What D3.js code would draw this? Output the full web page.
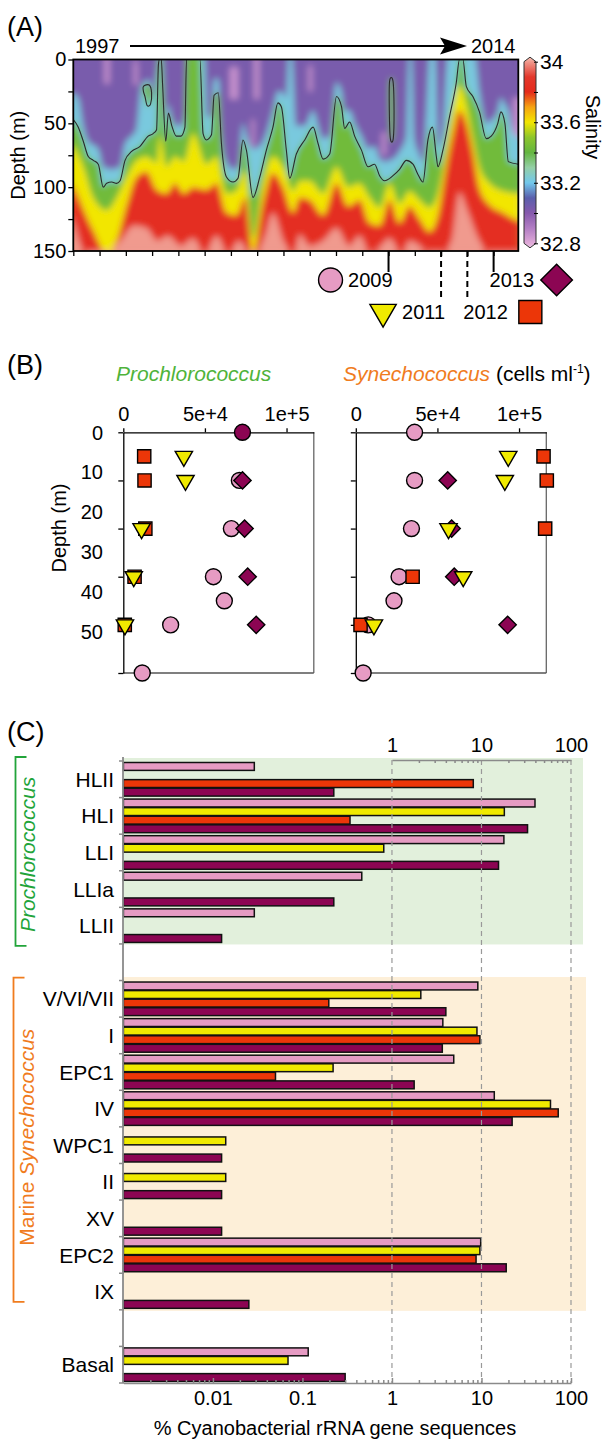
<!DOCTYPE html>
<html>
<head>
<meta charset="utf-8">
<script src="https://cdn.jsdelivr.net/npm/d3@7"></script>
<style>
  body { margin: 0; background: #fff; }
  svg { display: block; }
</style>
</head>
<body>
<script>
// ---------- (A) salinity section: depth (m) of isohalines through time ----------
var iso332 = [[1997.00,26],[1997.19,30],[1997.38,52],[1997.57,64],[1997.95,70],[1998.14,84],[1998.46,86],[1998.78,84],[1998.97,66],[1999.22,60],[1999.40,55],[1999.60,20],[1999.90,16],[2000.04,30],[2000.17,10],[2000.24,0],[2000.40,0],[2000.52,48],[2000.62,35],[2000.75,45],[2000.92,52],[2001.10,52],[2001.25,40],[2001.31,0],[2002.00,0],[2002.10,45],[2002.26,45],[2002.36,15],[2002.52,15],[2002.64,58],[2002.83,80],[2003.08,86],[2003.27,84],[2003.46,50],[2003.59,60],[2003.84,70],[2004.10,68],[2004.35,58],[2004.60,40],[2004.79,25],[2004.92,25],[2005.11,30],[2005.20,0],[2005.32,0],[2005.49,52],[2005.81,52],[2006.13,40],[2006.32,52],[2006.51,62],[2006.76,60],[2007.02,18],[2007.21,25],[2007.33,40],[2007.52,40],[2007.71,50],[2007.97,60],[2008.22,70],[2008.47,68],[2008.66,78],[2008.85,80],[2009.17,78],[2009.42,72],[2009.68,60],[2009.78,0],[2009.88,0],[2009.98,62],[2010.12,72],[2010.31,80],[2010.45,40],[2010.56,0],[2010.78,0],[2010.88,68],[2011.07,55],[2011.25,0],[2011.96,0],[2012.30,0],[2012.46,25],[2012.60,42],[2012.72,50],[2012.91,48],[2013.16,40],[2013.28,30],[2013.43,35],[2013.56,40],[2013.70,55],[2013.94,62]];

// the drawn contour line
var iso334 = [[1997.00,47],[1997.19,53],[1997.38,64],[1997.57,76],[1997.76,79],[1997.95,82],[1998.14,100],[1998.27,97],[1998.46,96],[1998.65,97],[1998.78,95],[1998.97,79],[1999.22,72],[1999.54,68],[1999.85,60],[2000.04,58],[2000.17,55],[2000.24,4],[2000.28,0],[2000.35,0],[2000.40,20],[2000.52,64],[2000.62,42],[2000.75,52],[2000.92,60],[2001.10,60],[2001.25,53],[2001.31,0],[2001.82,0],[2001.94,58],[2002.07,63],[2002.26,59],[2002.36,28],[2002.52,26],[2002.64,66],[2002.83,92],[2003.08,96],[2003.27,93],[2003.46,63],[2003.59,71],[2003.84,108],[2004.10,92],[2004.35,71],[2004.60,53],[2004.79,34],[2004.92,37],[2005.11,71],[2005.24,93],[2005.49,74],[2005.81,63],[2006.13,53],[2006.32,66],[2006.51,78],[2006.76,74],[2007.02,29],[2007.21,37],[2007.33,54],[2007.52,49],[2007.71,60],[2007.97,71],[2008.22,84],[2008.47,82],[2008.66,91],[2008.85,95],[2009.17,91],[2009.42,86],[2009.68,79],[2009.93,82],[2010.12,90],[2010.31,96],[2010.50,63],[2010.67,53],[2010.82,76],[2010.88,84],[2011.07,71],[2011.32,45],[2011.58,18],[2011.70,0],[2011.83,0],[2011.96,21],[2012.21,29],[2012.46,41],[2012.72,62],[2012.91,60],[2013.16,50],[2013.28,41],[2013.43,50],[2013.56,80],[2013.94,82]];

var iso336 = [[1997.00,66],[1997.40,85],[1997.76,108],[1998.27,118],[1998.65,108],[1999.03,92],[1999.41,79],[1999.79,76],[2000.17,81],[2000.30,60],[2000.55,84],[2000.87,76],[2001.20,80],[2001.56,58],[2002.07,82],[2002.45,76],[2002.83,105],[2003.21,103],[2003.53,87],[2003.84,140],[2004.22,97],[2004.60,76],[2004.98,84],[2005.37,103],[2005.62,95],[2006.00,95],[2006.51,105],[2007.02,84],[2007.46,100],[2007.90,97],[2008.28,108],[2008.66,116],[2009.04,97],[2009.42,113],[2009.80,103],[2010.18,110],[2010.56,116],[2010.88,105],[2011.20,71],[2011.45,40],[2011.70,20],[2011.96,35],[2012.20,60],[2012.46,84],[2012.85,97],[2013.35,103],[2013.94,105]];

var iso338 = [[1997.00,97],[1997.40,118],[1997.76,134],[1998.27,152],[1998.65,142],[1999.03,114],[1999.41,92],[1999.79,88],[2000.17,102],[2000.55,105],[2000.87,97],[2001.20,105],[2001.56,100],[2002.07,102],[2002.45,97],[2002.83,120],[2003.21,122],[2003.53,108],[2003.84,152],[2004.22,112],[2004.60,89],[2004.98,100],[2005.37,120],[2005.62,108],[2006.00,110],[2006.51,122],[2007.02,97],[2007.46,115],[2007.90,110],[2008.28,128],[2008.66,130],[2009.04,110],[2009.42,128],[2009.80,115],[2010.18,125],[2010.56,135],[2010.88,122],[2011.20,84],[2011.45,58],[2011.70,40],[2011.96,50],[2012.20,72],[2012.46,101],[2012.85,114],[2013.35,120],[2013.94,127]];

var iso3395 = [[1997.00,122],[1997.40,150],[1998.00,155],[1998.80,142],[1999.30,130],[1999.79,132],[2000.20,142],[2000.60,138],[2001.10,146],[2001.56,140],[2002.00,152],[2002.45,138],[2002.90,152],[2003.30,142],[2003.84,155],[2004.30,138],[2004.60,120],[2005.00,142],[2005.40,152],[2005.62,137],[2006.00,146],[2006.51,142],[2007.02,132],[2007.50,146],[2007.90,138],[2008.30,152],[2008.70,146],[2009.04,140],[2009.50,152],[2009.80,142],[2010.20,146],[2010.56,152],[2011.00,152],[2011.40,142],[2011.70,104],[2012.00,118],[2012.46,142],[2012.85,152],[2013.35,152],[2013.94,152]];

// closed 33.4 contours (isolated patches)
var island1 = [[1999.67,21],[1999.89,20],[1999.98,26],[1999.94,35],[1999.81,36],[1999.73,29],[1999.67,25]];
var island2 = [[2009.04,17],[2009.17,17],[2009.21,40],[2009.18,62],[2009.07,62],[2009.03,40]];

// low-salinity streaks in the surface layer: [start, end, top m, bottom m]
var freshStreaks = [[1998.18,1998.38,0,19],[2002.95,2003.28,6,31],[2003.88,2004.08,0,31],[2003.78,2003.90,47,68],[2008.74,2008.90,57,75],[2013.74,2013.94,30,62],[1999.30,1999.45,2,20],[2005.95,2006.10,5,25]];

var salStops  = [32.77, 32.8, 32.9, 33.0, 33.1, 33.2, 33.3, 33.4, 33.5, 33.6, 33.7, 33.8, 33.9, 34.0, 34.03];
var salColors = ["#ecc6e6","#e0aad8","#b27ec4","#8659ac","#5a5fac","#72c8ec","#94cfa6","#64b640","#8ec62c","#f2e600","#f5a312","#e52a1b","#e3382c","#f09a8e","#f6c2b4"];
var salTicks = [32.8, 33.0, 33.2, 33.4, 33.6, 33.8, 34.0];
var salLabels = [32.8, 33.2, 33.6, 34.0];
var sectionYears = d3.range(1997, 2014);

// ---------- sample years ----------
var sampleYears = [2009, 2011, 2012, 2013];
var yearColors = ["#e69bc3", "#f0ea00", "#ec3608", "#8c0553"];
var yearShapes = ["circle", "triangle", "square", "diamond"];
var drawOrder = [2009, 2013, 2012, 2011];

// ---------- (B) cell counts: [depth m, cells per ml] ----------
var pro2009 = [[10,71100],[20,66200],[30,55200],[35,61900],[40,29000],[50,11600]];
var pro2011 = [[5,37100],[10,38100],[20,11200],[30,6400],[40,1000]];
var pro2012 = [[5,12800],[10,13000],[20,13500],[30,6900],[40,900]];
var pro2013 = [[0,73000,"circle"],[10,73000],[20,74300],[30,76200],[40,81400]];

var syn2009 = [[0,36000],[10,36000],[20,34100],[30,26500],[35,23400],[40,7600],[50,4500]];
var syn2011 = [[5,93400],[10,91300],[20,56800],[30,65800],[40,11100]];
var syn2012 = [[5,115000],[10,117000],[20,116000],[30,34800],[40,2900]];
var syn2013 = [[10,56300],[20,58700],[30,60300],[40,93000]];

var depthTicks = [0, 10, 20, 30, 40, 50];
var cellTicks = [0, 5e4, 1e5];
var cellTickLabels = ["0", "5e+4", "1e+5"];

// ---------- (C) % of cyanobacterial rRNA sequences ("" = spacer row) ----------
var clades = ["HLII","HLI","LLI","LLIa","LLII","","V/VI/VII","I","EPC1","IV","WPC1","II","XV","EPC2","IX","","Basal"];
var pct2009 = [0.029, 39.6, 17.8, 0.46, 0.029, null, 9.1, 3.7, 4.9, 13.9, null, null, null, 9.8, null, null, 0.116];
var pct2011 = [null, 18.0, 0.81, null, null, null, 2.1, 8.9, 0.22, 59, 0.0139, 0.0139, null, 9.6, null, null, 0.069];
var pct2012 = [8.1, 0.34, null, null, null, null, 0.197, 9.6, 0.050, 72, null, null, null, 8.7, null, null, null];
var pct2013 = [0.224, 32.7, 15.5, 0.224, 0.0125, null, 4.0, 3.65, 1.77, 22, 0.0125, 0.0125, 0.0125, 18.9, 0.0252, null, 0.30];
var pctMajor = [0.01, 0.1, 1, 10, 100];
var pctGrid = [1, 10, 100];

var font = '"Liberation Sans", Arial, Helvetica, sans-serif';
var proGreen = "#4fb33a", proGreenDark = "#22a43a", synOrange = "#f07c1e";

var svg = d3.select("body").append("svg")
    .attr("width", 605)
    .attr("height", 1439)
    .style("font-family", font);

var defs = svg.append("defs");

function symbolPath(shape, size) {
  var type = shape === "circle" ? d3.symbolCircle : shape === "triangle" ? d3.symbolTriangle : d3.symbolSquare;
  return d3.symbol().type(type).size(size)();
}
function symbolTurn(shape) {
  return shape === "triangle" ? 180 : shape === "diamond" ? 45 : 0;
}

function styleAxis(g, size) {
  g.attr("font-family", font).attr("font-size", size).attr("color", "#000");
}

function label(x, y, txt, size) {
  return svg.append("text").attr("x", x).attr("y", y).style("font-size", size + "px").text(txt);
}

// ================= (A) =================
var xT = d3.scaleLinear().domain([1997, 2013.94]).range([73.3, 518.3]);
var yD = d3.scaleLinear().domain([0, 150]).range([59.5, 251]);
var salColor = d3.scaleLinear().domain(salStops).range(salColors);

var plotA = {x: xT(1997), y: yD(0), w: xT(2013.94) - xT(1997), h: yD(150) - yD(0)};

defs.append("clipPath").attr("id", "clipA").append("rect")
    .attr("x", plotA.x).attr("y", plotA.y).attr("width", plotA.w).attr("height", plotA.h);

var soft = defs.append("filter").attr("id", "soft")
    .attr("filterUnits", "userSpaceOnUse")
    .attr("x", plotA.x).attr("y", plotA.y).attr("width", plotA.w).attr("height", plotA.h);
soft.append("feGaussianBlur").attr("stdDeviation", "3.4 3");
soft.append("feComponentTransfer").append("feFuncA").attr("type", "table").attr("tableValues", "1 1");

var gA = svg.append("g").attr("clip-path", "url(#clipA)");
var field = gA.append("g").attr("filter", "url(#soft)");

field.append("rect")
    .attr("x", plotA.x).attr("y", plotA.y).attr("width", plotA.w).attr("height", plotA.h)
    .attr("fill", salColor(33.03));

field.selectAll(".streak")
    .data(freshStreaks)
  .enter().append("rect")
    .attr("class", "streak")
    .attr("x", function(d) { return xT(d[0]); })
    .attr("width", function(d) { return xT(d[1]) - xT(d[0]); })
    .attr("y", function(d) { return yD(d[2]); })
    .attr("height", function(d) { return yD(d[3]) - yD(d[2]); })
    .attr("fill", salColor(32.86));

var layers = [[iso332, 33.22], [iso334, 33.43], [iso336, 33.6], [iso338, 33.83], [iso3395, 34.0]];

var below = d3.area()
    .curve(d3.curveMonotoneX)
    .x(function(d) { return xT(d[0]); })
    .y0(yD(150))
    .y1(function(d) { return yD(d[1]); });

field.selectAll(".layer")
    .data(layers)
  .enter().append("path")
    .attr("class", "layer")
    .attr("d", function(d) { return below(d[0]); })
    .attr("fill", function(d) { return salColor(d[1]); });

var ring = d3.line()
    .curve(d3.curveCardinalClosed)
    .x(function(d) { return xT(d[0]); })
    .y(function(d) { return yD(d[1]); });

field.selectAll(".island")
    .data([island1, island2])
  .enter().append("path")
    .attr("class", "island")
    .attr("d", ring)
    .attr("fill", salColor(33.43));

gA.append("path")
    .datum(iso334)
    .attr("d", d3.line().curve(d3.curveMonotoneX)
        .x(function(d) { return xT(d[0]); })
        .y(function(d) { return yD(d[1]); }))
    .attr("fill", "none")
    .attr("stroke", "#2a2a2a")
    .attr("stroke-width", 1.1);

gA.selectAll(".islandLine")
    .data([island1, island2])
  .enter().append("path")
    .attr("d", ring)
    .attr("fill", "none")
    .attr("stroke", "#2a2a2a")
    .attr("stroke-width", 1.1);

svg.append("rect")
    .attr("x", plotA.x).attr("y", plotA.y).attr("width", plotA.w).attr("height", plotA.h)
    .attr("fill", "none").attr("stroke", "#000").attr("stroke-width", 1.8);

// depth axis
svg.append("g")
    .attr("transform", "translate(" + plotA.x + ",0)")
    .call(d3.axisLeft(yD).tickValues([0, 25, 50, 75, 100, 125, 150])
        .tickFormat(function(d) { return d % 50 ? "" : d; })
        .tickSize(5).tickPadding(2))
    .call(styleAxis, 20)
    .call(function(g) {
      g.select(".domain").remove();
      g.selectAll(".tick line").attr("stroke-width", 1.3);
    });

// time ticks
svg.append("g")
    .attr("transform", "translate(0," + yD(150) + ")")
    .call(d3.axisBottom(xT).tickValues(sectionYears).tickFormat("").tickSize(5))
    .call(styleAxis, 12)
    .call(function(g) {
      g.select(".domain").remove();
      g.selectAll(".tick line").attr("stroke-width", 1.3);
    });

svg.append("text").attr("transform", "translate(25," + (plotA.y + plotA.h / 2) + ") rotate(-90)")
    .attr("text-anchor", "middle").style("font-size", "20px").text("Depth (m)");

label(7, 36, "(A)", 27);
label(75, 53, "1997", 20);
label(471, 53, "2014", 20);
svg.append("line").attr("x1", 130).attr("x2", 448).attr("y1", 46).attr("y2", 46)
    .attr("stroke", "#000").attr("stroke-width", 2.2);
svg.append("path").attr("d", "M467,46L440,37.5L445,46L440,54.5Z").attr("fill", "#000");

// colour bar
var yS = d3.scaleLinear().domain([32.8, 34]).range([243.3, 61.7]);
var grad = defs.append("linearGradient").attr("id", "salGrad")
    .attr("gradientUnits", "userSpaceOnUse")
    .attr("x1", 0).attr("x2", 0).attr("y1", yS(34.03)).attr("y2", yS(32.77));
grad.selectAll("stop")
    .data(salStops.slice().reverse())
  .enter().append("stop")
    .attr("offset", function(d) { return (34.03 - d) / (34.03 - 32.77); })
    .attr("stop-color", function(d) { return salColors[salStops.indexOf(d)]; });

svg.append("path")
    .attr("d", "M524," + yS(34) + "L530," + yS(34.03) + "L536," + yS(34) +
               "L536," + yS(32.8) + "L530," + yS(32.77) + "L524," + yS(32.8) + "Z")
    .attr("fill", "url(#salGrad)").attr("stroke", "#333").attr("stroke-width", 1);

svg.append("g")
    .attr("transform", "translate(534,0)")
    .call(d3.axisRight(yS).tickValues(salTicks).tickSize(4).tickPadding(2)
        .tickFormat(function(d) {
          if (salLabels.indexOf(d) < 0) return "";
          return d === 34 ? "34" : d.toFixed(1);
        }))
    .call(styleAxis, 21)
    .call(function(g) { g.select(".domain").remove(); });

svg.append("text").attr("transform", "translate(586," + 127 + ") rotate(90)")
    .attr("text-anchor", "middle").style("font-size", "20px").text("Salinity");

// sample-year markers under the section
var legendRows = {2009: 0, 2013: 0, 2011: 1, 2012: 1};
sampleYears.forEach(function(yr, i) {
  var x = xT(yr), row = legendRows[yr], dashed = row === 1;
  var cy = row === 0 ? 280 : 312;
  var leftSide = yr === 2009 || yr === 2011;
  svg.append("line")
      .attr("x1", x).attr("x2", x).attr("y1", yD(150)).attr("y2", dashed ? 297 : 272)
      .attr("stroke", "#000").attr("stroke-width", 2)
      .attr("stroke-dasharray", dashed ? "6,4" : null);
  svg.append("text")
      .attr("x", leftSide ? x + 4 : x - 4).attr("y", cy + 7)
      .attr("text-anchor", leftSide ? "end" : "start")
      .style("font-size", "20px").text(yr);
  var shape = yearShapes[i];
  var size = {circle: 450, triangle: 300, square: 530, diamond: 500}[shape];
  svg.append("path")
      .attr("transform", "translate(" + (leftSide ? x - 58 : x + 63) + "," + cy + ") rotate(" + symbolTurn(shape) + ")")
      .attr("d", symbolPath(shape, size))
      .attr("fill", yearColors[i]).attr("stroke", "#000").attr("stroke-width", 1.4);
});

// ================= (B) =================
label(7, 374, "(B)", 27);
label(116, 381, "Prochlorococcus", 21).style("font-style", "italic").attr("fill", proGreen);
var synTitle = label(343, 381, null, 21);
synTitle.append("tspan").style("font-style", "italic").attr("fill", synOrange).text("Synechococcus");
synTitle.append("tspan").text(" (cells ml");
synTitle.append("tspan").attr("dy", -8).style("font-size", "12px").text("-1");
synTitle.append("tspan").attr("dy", 8).text(")");

var xB = d3.scaleLinear().domain([0, 116700]).range([0, 190.5]);
var yB = d3.scaleLinear().domain([0, 50]).range([432.3, 673]);
var yBLabel = d3.scaleLinear().domain([0, 50]).range([432.3, 631.8]);
var symSize = {circle: 200, square: 175, diamond: 150, triangle: 130};

var bPanels = [
  {left: 123.3, series: {2009: pro2009, 2011: pro2011, 2012: pro2012, 2013: pro2013}},
  {left: 355.8, series: {2009: syn2009, 2011: syn2011, 2012: syn2012, 2013: syn2013}}
];

bPanels.forEach(function(p) {
  var g = svg.append("g").attr("transform", "translate(" + p.left + ",0)");
  var x1 = xB.range()[1];

  g.append("line").attr("x1", x1).attr("x2", x1).attr("y1", yB(0)).attr("y2", yB(50))
      .attr("stroke", "#666").attr("stroke-width", 1.3);
  g.append("line").attr("x1", 0).attr("x2", x1).attr("y1", yB(50)).attr("y2", yB(50))
      .attr("stroke", "#555").attr("stroke-width", 1.3);

  g.append("g")
      .attr("transform", "translate(0," + yB(0) + ")")
      .call(d3.axisTop(xB).tickValues(cellTicks).tickSize(4).tickSizeOuter(0).tickPadding(7)
          .tickFormat(function(d, i) { return cellTickLabels[i]; }))
      .call(styleAxis, 20)
      .call(function(a) { a.selectAll("path, line").attr("stroke-width", 1.3); });

  g.append("g")
      .call(d3.axisLeft(yB).tickValues(depthTicks).tickSize(5).tickSizeOuter(0).tickFormat(""))
      .call(styleAxis, 12)
      .call(function(a) { a.selectAll("path, line").attr("stroke-width", 1.3); });

  drawOrder.forEach(function(yr) {
    var i = sampleYears.indexOf(yr);
    g.selectAll(null)
        .data(p.series[yr])
      .enter().append("path")
        .attr("transform", function(d) {
          return "translate(" + xB(d[1]) + "," + yB(d[0]) + ") rotate(" + symbolTurn(d[2] || yearShapes[i]) + ")";
        })
        .attr("d", function(d) { var s = d[2] || yearShapes[i]; return symbolPath(s, symSize[s]); })
        .attr("fill", yearColors[i])
        .attr("stroke", "#000")
        .attr("stroke-width", 1.4);
  });
});

svg.selectAll(".depthLabel")
    .data(depthTicks)
  .enter().append("text")
    .attr("x", 103).attr("y", function(d) { return yBLabel(d); })
    .attr("dy", "0.36em").attr("text-anchor", "end")
    .style("font-size", "20px")
    .text(function(d) { return d; });

svg.append("text").attr("transform", "translate(66,528) rotate(-90)")
    .attr("text-anchor", "middle").style("font-size", "20px").text("Depth (m)");

// ================= (C) =================
label(7, 741, "(C)", 27);

var xC = d3.scaleLog().domain([0.001, 100]).range([123.4, 571]);
var yC = d3.scaleBand().domain(d3.range(clades.length)).range([761, 1383]);
var ySub = d3.scaleBand().domain(sampleYears).range([1.5, yC.bandwidth() - 1.5]).paddingInner(0.08);
var pctSeries = [pct2009, pct2011, pct2012, pct2013];

// group shading
svg.append("rect").attr("x", 123).attr("y", yC(0) - 3).attr("width", 460).attr("height", yC(5) - yC(0) + 3.5)
    .attr("fill", "#e2f0dc");
svg.append("rect").attr("x", 123).attr("y", yC(6) - 3.5).attr("width", 463).attr("height", yC(15) - yC(6) + 4.5)
    .attr("fill", "#fdefd8");

// bars
pctSeries.forEach(function(vals, i) {
  var yr = sampleYears[i];
  svg.selectAll(null)
      .data(vals.map(function(v, k) { return {k: k, v: v}; }).filter(function(d) { return d.v != null; }))
    .enter().append("rect")
      .attr("x", xC(0.001))
      .attr("y", function(d) { return yC(d.k) + ySub(yr); })
      .attr("width", function(d) { return xC(d.v) - xC(0.001); })
      .attr("height", ySub.bandwidth())
      .attr("fill", yearColors[i])
      .attr("stroke", "#111")
      .attr("stroke-width", 1.5);
});

// dashed grid
svg.selectAll(".gridC")
    .data(pctGrid)
  .enter().append("line")
    .attr("x1", function(d) { return xC(d); }).attr("x2", function(d) { return xC(d); })
    .attr("y1", 760).attr("y2", 1383)
    .attr("stroke", "#999").attr("stroke-width", 1.2).attr("stroke-dasharray", "5,4");

// left axis with tick at every row boundary
svg.append("line").attr("x1", 123).attr("x2", 123).attr("y1", 757).attr("y2", 1383)
    .attr("stroke", "#8a8a8a").attr("stroke-width", 1.8);
svg.selectAll(".rowTick")
    .data(d3.range(clades.length + 1))
  .enter().append("line")
    .attr("x1", 119).attr("x2", 124)
    .attr("y1", function(i) { return i < clades.length ? yC(i) : yC.range()[1]; })
    .attr("y2", function(i) { return i < clades.length ? yC(i) : yC.range()[1]; })
    .attr("stroke", "#8a8a8a").attr("stroke-width", 1.5);

svg.selectAll(".clade")
    .data(clades)
  .enter().append("text")
    .attr("x", 114)
    .attr("y", function(d, i) { return yC(i) + yC.bandwidth() / 2; })
    .attr("dy", "0.36em").attr("text-anchor", "end")
    .style("font-size", "21px")
    .text(function(d) { return d; });

// bottom axis
var minorC = [];
[0.001, 0.01, 0.1, 1, 10].forEach(function(p) { d3.range(2, 10).forEach(function(m) { minorC.push(p * m); }); });

svg.append("g")
    .attr("transform", "translate(0,1383)")
    .call(d3.axisBottom(xC).tickValues(minorC).tickFormat("").tickSizeInner(-3).tickSizeOuter(0))
    .call(styleAxis, 12)
    .call(function(g) { g.attr("color", "#8a8a8a"); g.selectAll("path, line").attr("stroke-width", 1.5); });
svg.append("g")
    .attr("transform", "translate(0,1383)")
    .call(d3.axisBottom(xC).tickValues(pctMajor).tickFormat(function(d) { return String(d); })
        .tickSizeInner(-5).tickSizeOuter(0).tickPadding(8))
    .call(styleAxis, 20)
    .call(function(g) {
      g.select(".domain").remove();
      g.selectAll("line").attr("stroke", "#8a8a8a").attr("stroke-width", 1.5);
    });

// top axis (1 - 100)
var xCtop = xC.copy().domain([1, 100]).range([xC(1), xC(100)]);
var minorTop = [];
[1, 10].forEach(function(p) { d3.range(2, 10).forEach(function(m) { minorTop.push(p * m); }); });
svg.append("g")
    .attr("transform", "translate(0,760)")
    .call(d3.axisBottom(xCtop).tickValues(minorTop).tickFormat("").tickSizeInner(3).tickSizeOuter(0))
    .call(styleAxis, 12)
    .call(function(g) { g.attr("color", "#8a8a8a"); g.selectAll("path, line").attr("stroke-width", 1.5); });
svg.append("g")
    .attr("transform", "translate(0,760)")
    .call(d3.axisTop(xCtop).tickValues(pctGrid).tickSize(0).tickPadding(8)
        .tickFormat(function(d) { return String(d); }))
    .call(styleAxis, 20)
    .call(function(g) { g.select(".domain").remove(); });

svg.append("text").attr("x", 335).attr("y", 1435).attr("text-anchor", "middle")
    .style("font-size", "20px").text("% Cyanobacterial rRNA gene sequences");

// group brackets
function bracket(y0, y1, x, color) {
  svg.append("path")
      .attr("d", "M" + (x + 11) + "," + y0 + "H" + x + "V" + y1 + "H" + (x + 11))
      .attr("fill", "none").attr("stroke", color).attr("stroke-width", 1.8);
}
bracket(yC(0) - 4, yC(5) + 2, 15.5, proGreenDark);
bracket(yC(6) - 3, yC(15) - 8, 13.5, synOrange);

svg.append("text").attr("transform", "translate(35," + ((yC(0) + yC(5)) / 2 + 2) + ") rotate(-90)")
    .attr("text-anchor", "middle").style("font-size", "21px").style("font-style", "italic")
    .attr("fill", proGreenDark).text("Prochlorococcus");

var synLab = svg.append("text").attr("transform", "translate(34," + ((yC(6) + yC(15)) / 2 - 8) + ") rotate(-90)")
    .attr("text-anchor", "middle").style("font-size", "21px").attr("fill", synOrange);
synLab.append("tspan").text("Marine ");
synLab.append("tspan").style("font-style", "italic").text("Synechococcus");
</script>
</body>
</html>
